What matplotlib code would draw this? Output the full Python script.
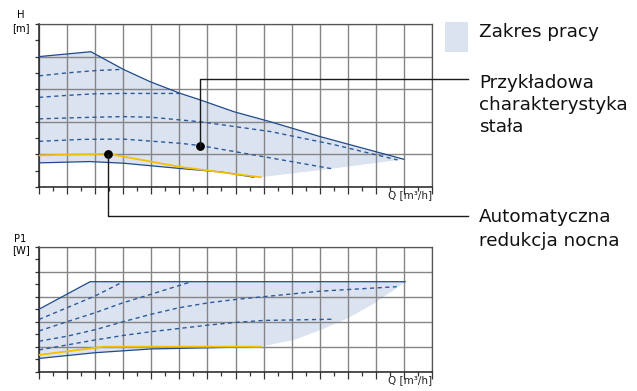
import numpy as np
import matplotlib.pyplot as plt
from matplotlib.lines import Line2D
from matplotlib.patches import Rectangle

plt.rcParams['font.family'] = 'DejaVu Sans'

# colours
area = '#dbe3f0'
blue = '#1f4b8b'
dash_blue = '#2b5a9a'
yellow = '#f5c000'
grid_gray = '#858585'
ink = '#1a1a1a'

# --- head curves H [m] vs Q [m3/h] (grid units) ---
h_max_q = [0, 1.85, 3.0, 3.96, 5.04, 5.75, 6.94, 8.25, 10.04, 13.0]
h_max = [4.0, 4.15, 3.61, 3.23, 2.87, 2.67, 2.31, 2.0, 1.54, 0.85]
h_min_q = [0, 1.8, 3.0, 5.0, 6.5, 7.65]
h_min = [0.74, 0.78, 0.73, 0.57, 0.46, 0.30]
h_night_q = [0, 2.45, 5.0, 6.5, 7.9]
h_night = [0.97, 1.02, 0.62, 0.45, 0.30]
h_edge_q = [7.9, 10.5, 13.0]
h_edge = [0.30, 0.57, 0.85]
h_const_q = [
    [0, 1, 2, 3.0],
    [0, 1, 2, 3, 4, 5.0],
    [0, 1.5, 3, 4, 5.75, 8.25, 10.5, 12.77],
    [0, 1.5, 3, 5.04, 5.75, 8.0, 10.5],
]
h_const = [
    [3.41, 3.50, 3.57, 3.61],
    [2.75, 2.81, 2.86, 2.87, 2.87, 2.87],
    [2.09, 2.13, 2.16, 2.14, 2.0, 1.70, 1.30, 0.83],
    [1.40, 1.46, 1.47, 1.34, 1.27, 0.93, 0.55],
]

# --- power curves P1 [W] vs Q [m3/h] ---
p_max_q = [0, 1.82, 13.04]
p_max = [2.5, 3.6, 3.6]
p_min_q = [0, 2, 4, 7, 7.65]
p_min = [0.53, 0.76, 0.91, 0.98, 1.0]
p_night_q = [0, 2.3, 7.9]
p_night = [0.67, 1.0, 1.0]
p_edge_q = [7.9, 9.08, 10.04, 10.99, 11.94, 12.9, 13.04]
p_edge = [1.0, 1.27, 1.67, 2.13, 2.73, 3.47, 3.6]
p_const_q = [
    [0, 1, 2, 3],
    [0, 1, 2, 3, 4, 5.43],
    [0, 1, 2, 3, 4, 5, 6, 7, 8, 10, 12.74],
    [0, 1, 2, 3, 4, 5, 6, 7, 8, 10.5],
]
p_const = [
    [2.09, 2.56, 3.03, 3.6],
    [1.63, 2.0, 2.36, 2.76, 3.1, 3.6],
    [1.22, 1.42, 1.68, 2.0, 2.3, 2.56, 2.75, 2.89, 3.0, 3.22, 3.4],
    [0.87, 1.07, 1.27, 1.45, 1.6, 1.73, 1.86, 1.97, 2.05, 2.1],
]

W, H = 637, 391
fig = plt.figure(figsize=(W / 100, H / 100), dpi=100)


def box(l, t, r, b):
    return [l / W, 1 - b / H, (r - l) / W, (b - t) / H]


def style(ax):
    ax.set_xlim(0, 14)
    ax.set_ylim(0, 5)
    ax.set_xticks(np.arange(0, 15))
    ax.set_xticks(np.arange(0.5, 14, 1), minor=True)
    ax.set_yticks(np.arange(0, 6))
    ax.set_yticks(np.arange(0.5, 5, 1), minor=True)
    ax.tick_params(which='both', labelbottom=False, labelleft=False,
                   direction='out', color='#333333', width=0.9)
    ax.tick_params(axis='x', which='major', length=5)
    ax.tick_params(axis='x', which='minor', length=2.7)
    ax.tick_params(axis='y', which='both', length=3)
    ax.grid(True, which='major', color=grid_gray, lw=1.0)
    ax.set_axisbelow(True)
    for side in ['top', 'right']:
        ax.spines[side].set_color('#555555')
        ax.spines[side].set_linewidth(0.9)
    for side in ['left', 'bottom']:
        ax.spines[side].set_color('#222222')
        ax.spines[side].set_linewidth(1.1)
    ax.annotate('Q [m³/h]', xy=(1, 0), xycoords='axes fraction',
                xytext=(0, -6), textcoords='offset points',
                ha='right', va='center', fontsize=7.5, color='#222222')


def draw_set(ax, mx_q, mx, mn_q, mn, nt_q, nt, ed_q, ed, cq, cv):
    # working range: top envelope, right edge, then bottom curve back
    poly_x = list(mx_q) + list(ed_q[::-1]) + list(mn_q[::-1])
    poly_y = list(mx) + list(ed[::-1]) + list(mn[::-1])
    ax.fill(poly_x, poly_y, color=area, lw=0, zorder=0.2)
    for q, v in zip(cq, cv):
        ax.plot(q, v, color=dash_blue, lw=1.0, ls=(0, (3, 2.5)), zorder=2)
    ax.plot(mx_q, mx, color=blue, lw=0.9, zorder=3)
    ax.plot(mn_q, mn, color=blue, lw=0.9, zorder=3)
    ax.plot(nt_q, nt, color=yellow, lw=1.3, zorder=3)


ax_h = fig.add_axes(box(39, 24, 432, 187))
ax_p = fig.add_axes(box(39, 246.7, 432, 371.7))
style(ax_h)
style(ax_p)

draw_set(ax_h, h_max_q, h_max, h_min_q, h_min, h_night_q, h_night,
         h_edge_q, h_edge, h_const_q, h_const)
draw_set(ax_p, p_max_q, p_max, p_min_q, p_min, p_night_q, p_night,
         p_edge_q, p_edge, p_const_q, p_const)

fig.text(20.5 / W, 1 - 15.5 / H, 'H', ha='center', va='center', fontsize=7.2)
fig.text(20.5 / W, 1 - 28 / H, '[m]', ha='center', va='center', fontsize=7.2)
fig.text(20 / W, 1 - 238.5 / H, 'P1', ha='center', va='center', fontsize=7.2)
fig.text(21 / W, 1 - 250 / H, '[W]', ha='center', va='center', fontsize=7.2)

# leader lines from the marked points to the descriptions
inv = fig.transFigure.inverted()


def leader(ax, q, v, y_pix, x_end_pix):
    px, py = ax.transData.transform((q, v))
    x0, y0 = inv.transform((px, py))
    yl = 1 - y_pix / H
    xe = x_end_pix / W
    fig.add_artist(Line2D([x0, x0, xe], [y0, yl, yl], color=ink, lw=1.0,
                          transform=fig.transFigure, zorder=5))
    ax.plot(q, v, 'o', color='black', ms=5.3, zorder=6)


leader(ax_h, h_const_q[3][4], h_const[3][4], 79, 467.5)
leader(ax_h, h_night_q[1], h_night[1], 216, 467.5)

# legend / descriptions
fig.add_artist(Rectangle((445 / W, 1 - 52 / H), 23 / W, 30 / H,
                         transform=fig.transFigure, color=area, lw=0))
txt = dict(fontsize=13.2, va='baseline', ha='left', color='#111111')
fig.text(479 / W, 1 - 37 / H, 'Zakres pracy', **txt)
fig.text(479 / W, 1 - 87.5 / H, 'Przykładowa', **txt)
fig.text(479 / W, 1 - 110 / H, 'charakterystyka', **txt)
fig.text(479 / W, 1 - 132 / H, 'stała', **txt)
fig.text(479 / W, 1 - 222 / H, 'Automatyczna', **txt)
fig.text(479 / W, 1 - 245.5 / H, 'redukcja nocna', **txt)

fig.savefig('out.png', dpi=100)
